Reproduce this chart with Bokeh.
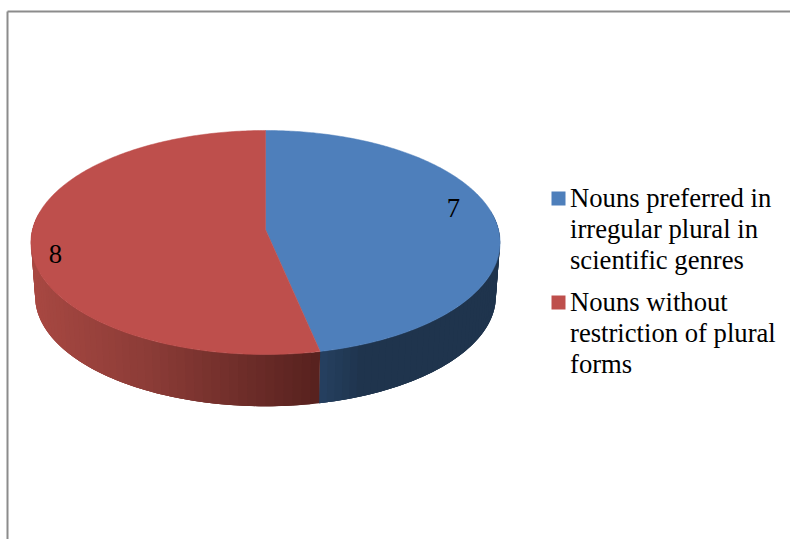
import math

from bokeh.core.properties import value
from bokeh.embed import file_html
from bokeh.models import Range1d
from bokeh.plotting import figure
from bokeh.resources import INLINE

# Chart data
categories = ["Nouns preferred in irregular plural in scientific genres",
              "Nouns without restriction of plural forms"]
counts = [7, 8]
legend_lines = [["Nouns preferred in", "irregular plural in", "scientific genres"],
                ["Nouns without", "restriction of plural", "forms"]]

top_colors = ["#4E7FBB", "#BE4F4C"]
side_ramps = [[(319, (38, 66, 99)), (365, (31, 52, 77)), (500, (31, 52, 77))],
              [(31, (168, 72, 66)), (150, (140, 60, 55)), (319, (88, 34, 31))]]

# Perspective disc: centre, half-axes, foreshortening and rim depth, in pixels
CX, CY, AX, AY, TILT = 265.0, 229.0, 233.0, 110.5, 0.116
RIM_DROP, RIM_SCALE = 54.0, 0.982
TEXT_SHIFT = -9.5  # lifts the serif text onto its baseline


def project(theta, drop=0.0, scale=1.0):
    """Map an angle, clockwise from twelve o'clock, onto the tilted disc."""
    w = 1 + TILT * math.cos(theta)
    return (CX + scale * AX * math.sin(theta) / w,
            CY + drop - scale * AY * math.cos(theta) / w)


def ramp_color(ramp, x):
    """Interpolate a rim shade for the horizontal position x."""
    if x <= ramp[0][0]:
        return "#%02x%02x%02x" % ramp[0][1]
    for (x0, c0), (x1, c1) in zip(ramp, ramp[1:]):
        if x <= x1:
            t = (x - x0) / (x1 - x0)
            return "#%02x%02x%02x" % tuple(round(a + (b - a) * t) for a, b in zip(c0, c1))
    return "#%02x%02x%02x" % ramp[-1][1]


p = figure(width=790, height=539, output_backend="svg", toolbar_location=None,
           x_range=Range1d(0, 790), y_range=Range1d(539, 0),
           min_border=0, outline_line_color=None, background_fill_color="white",
           border_fill_color="white")
p.axis.visible = False
p.grid.visible = False

# Chart frame: only the top and left edges fall inside the page
p.segment([7, 7], [11, 11], [790, 7], [11, 539], line_color="#8c8c8c", line_width=2)

total = sum(counts)
spans = []
start = 0.0
for c in counts:
    end = start + 2 * math.pi * c / total
    spans.append((start, end))
    start = end

# Rim of the disc: shaded slivers, each overlapping the next so no seams show
for (a0, a1), ramp in zip(spans, side_ramps):
    steps = 96
    xs, ys, cols = [], [], []
    for i in range(steps):
        t0 = a0 + (a1 - a0) * i / steps
        t1 = min(a1, t0 + 3 * (a1 - a0) / steps)
        if math.cos(t0) > 0.1 and math.cos(t1) > 0.1:
            continue
        arc = [t0 + (t1 - t0) * j / 4 for j in range(5)]
        upper = [project(t) for t in arc]
        lower = [project(t, RIM_DROP, RIM_SCALE) for t in reversed(arc)]
        xs.append([q[0] for q in upper + lower])
        ys.append([q[1] for q in upper + lower])
        cols.append(ramp_color(ramp, upper[0][0]))
    p.patches(xs, ys, fill_color=cols, line_color=None)

# Top face of each slice
for (a0, a1), color in zip(spans, top_colors):
    steps = 240
    pts = [project(a0 + (a1 - a0) * i / steps) for i in range(steps + 1)]
    p.patch([CX] + [q[0] for q in pts], [CY] + [q[1] for q in pts],
            fill_color=color, line_color=color, line_width=0.5)

# Value labels on the slices
p.text([453, 55], [217, 263], text=[str(c) for c in counts], y_offset=TEXT_SHIFT,
       text_font=value("Liberation Serif"), text_font_size="26.67px",
       text_color="#000000", text_align="center", text_baseline="alphabetic")

# Legend
LEGEND_MARK_X, LEGEND_TEXT_X, LEGEND_SIZE, LINE_STEP = 558, 569.5, 14, 31
legend_tops = [206, 310]
for lines, base, color in zip(legend_lines, legend_tops, top_colors):
    p.rect([LEGEND_MARK_X], [base - 8], width=LEGEND_SIZE, height=LEGEND_SIZE,
           fill_color=color, line_color=None)
    p.text([LEGEND_TEXT_X] * len(lines), [base + i * LINE_STEP for i in range(len(lines))],
           text=lines, y_offset=TEXT_SHIFT + 1,
           text_font=value("Liberation Serif"), text_font_size="26.67px",
           text_color="#000000", text_align="left", text_baseline="alphabetic")

open("out.html", "w").write(file_html(p, INLINE))
